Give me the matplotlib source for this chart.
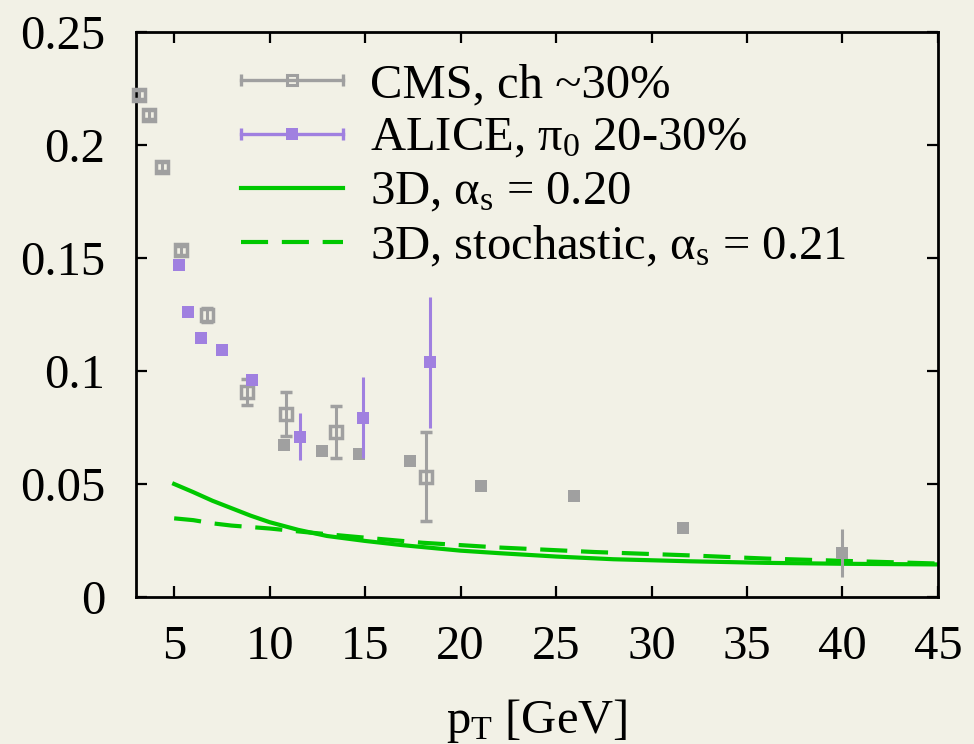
import numpy as np
import matplotlib
matplotlib.use('Agg')
import matplotlib.pyplot as plt
from matplotlib.legend_handler import HandlerBase
from matplotlib.lines import Line2D

plt.rcParams['font.family'] = ['Liberation Serif', 'DejaVu Serif']
plt.rcParams['mathtext.fontset'] = 'custom'
plt.rcParams['mathtext.rm'] = 'Liberation Serif'
plt.rcParams['mathtext.it'] = 'Liberation Serif:italic'
plt.rcParams['mathtext.bf'] = 'Liberation Serif:bold'

bg = '#f2f1e6'
gray = '#a0a0a0'
purple = '#a080e0'
green = '#00c800'

# CMS, charged, open squares with error bars
cms_x = [3.18, 3.69, 4.37, 5.38, 6.73, 8.79, 10.87, 13.47, 18.17]
cms_y = [0.2222, 0.2133, 0.1904, 0.1535, 0.1247, 0.0908, 0.0810, 0.0731, 0.0533]
cms_err = [0.002, 0.002, 0.002, 0.002, 0.003, 0.0058, 0.0098, 0.0115, 0.0195]

# CMS, filled squares (second set, not in the key)
cms2_x = [10.73, 12.72, 14.70, 17.33, 21.05, 25.93, 31.64, 39.97]
cms2_y = [0.0671, 0.0645, 0.0633, 0.0600, 0.0489, 0.0446, 0.0304, 0.0194]
cms2_err = [0.002, 0.002, 0.002, 0.002, 0.002, 0.002, 0.002, 0.0107]

# ALICE pi0 20-30%
alice_x = [5.23, 5.75, 6.43, 7.52, 9.10, 11.57, 14.87, 18.38]
alice_y = [0.1468, 0.1260, 0.1145, 0.1093, 0.0960, 0.0710, 0.0794, 0.1038]
alice_err = [0.002, 0.002, 0.002, 0.002, 0.002, 0.0105, 0.0178, 0.0289]

# 3D, alpha_s = 0.20
solid_x = [5, 6, 7, 8, 9, 10, 11.5, 13, 15, 17, 20, 22, 25, 28, 32, 36, 40, 45]
solid_y = [0.0500, 0.0464, 0.0426, 0.0393, 0.0360, 0.0331, 0.0297, 0.0270, 0.0248,
           0.0229, 0.0205, 0.0194, 0.0179, 0.0167, 0.0158, 0.0151, 0.0147, 0.0144]

# 3D, stochastic, alpha_s = 0.21
dash_x = [5, 6, 7, 8, 10, 12, 14, 18, 22, 27, 32, 36, 40, 45]
dash_y = [0.0348, 0.0340, 0.0326, 0.0316, 0.0303, 0.0286, 0.0270, 0.0240, 0.0219,
          0.0199, 0.0184, 0.0170, 0.0160, 0.0148]


class CapHandler(HandlerBase):
    # gnuplot-like key entry: horizontal bar with end caps and a marker in the middle
    def __init__(self, color, mfc):
        super().__init__()
        self.color = color
        self.mfc = mfc

    def create_artists(self, legend, orig_handle, xdescent, ydescent, width, height, fontsize, trans):
        y = height / 2 - ydescent
        x0, x1 = -xdescent, width - xdescent
        bar = Line2D([x0, x1], [y, y], color=self.color, lw=2.4)
        caps = Line2D([x0, x1], [y, y], ls='none', marker='|', ms=8.5, mew=2.4, color=self.color)
        if self.mfc == 'none':
            mk = Line2D([(x0 + x1) / 2], [y], ls='none', marker='s', ms=7,
                        mfc='none', mec=self.color, mew=2.2)
        else:
            mk = Line2D([(x0 + x1) / 2], [y], ls='none', marker='s', ms=8,
                        mfc=self.mfc, mec=self.color, mew=0)
        for a in (bar, caps, mk):
            a.set_transform(trans)
        return [bar, caps, mk]


fig = plt.figure(figsize=(9.74, 7.44), dpi=100, facecolor=bg)
ax = fig.add_axes([0.1396, 0.1976, 0.8234, 0.7594], facecolor=bg)

cms = ax.errorbar(cms_x, cms_y, yerr=cms_err, fmt='s', ms=8, mfc='none', mec=gray, mew=2.5,
                  ecolor=gray, elinewidth=2.2, capsize=4, capthick=2.2, clip_on=False, zorder=3)
ax.errorbar(cms2_x, cms2_y, yerr=cms2_err, fmt='s', ms=8, mfc=gray, mec=gray, mew=0,
            ecolor=gray, elinewidth=2.2, capsize=4, capthick=2.2, zorder=3)
alice = ax.errorbar(alice_x, alice_y, yerr=alice_err, fmt='s', ms=8, mfc=purple, mec=purple, mew=0,
                    ecolor=purple, elinewidth=2.2, capsize=4, capthick=2.2, zorder=4)
l1, = ax.plot(solid_x, solid_y, color=green, lw=3, zorder=2)
l2, = ax.plot(dash_x, dash_y, color=green, lw=3, dashes=(6.5, 3.3), zorder=2)

ax.set_xlim(3, 45)
ax.set_ylim(0, 0.25)
ax.set_xticks([5, 10, 15, 20, 25, 30, 35, 40, 45])
ax.set_yticks([0, 0.05, 0.1, 0.15, 0.2, 0.25])
ax.set_yticklabels(['0', '0.05', '0.1', '0.15', '0.2', '0.25'])
ax.tick_params(axis='both', direction='in', length=8, width=1.6, labelsize=35,
               top=True, right=True)
ax.tick_params(axis='y', pad=22)
ax.tick_params(axis='x', pad=20)
for s in ax.spines.values():
    s.set_linewidth(2.0)

ax.set_xlabel(r'p$_\mathrm{T}$ [GeV]', fontsize=35, labelpad=20)

labels = ['CMS, ch ~30%', r'ALICE, π$_0$ 20-30%', r'3D, α$_\mathrm{s}$ = 0.20',
          r'3D, stochastic, α$_\mathrm{s}$ = 0.21']
ax.legend([cms, alice, l1, l2], labels, loc='upper left',
          bbox_to_anchor=(241 / 974, 1 - 63 / 744), bbox_transform=fig.transFigure,
          frameon=False, fontsize=35, handlelength=2.1, handletextpad=0.55,
          borderpad=0, borderaxespad=0, labelspacing=0.2,
          handler_map={cms: CapHandler(gray, 'none'), alice: CapHandler(purple, purple)})

fig.savefig('out.png', dpi=100, facecolor=bg)
